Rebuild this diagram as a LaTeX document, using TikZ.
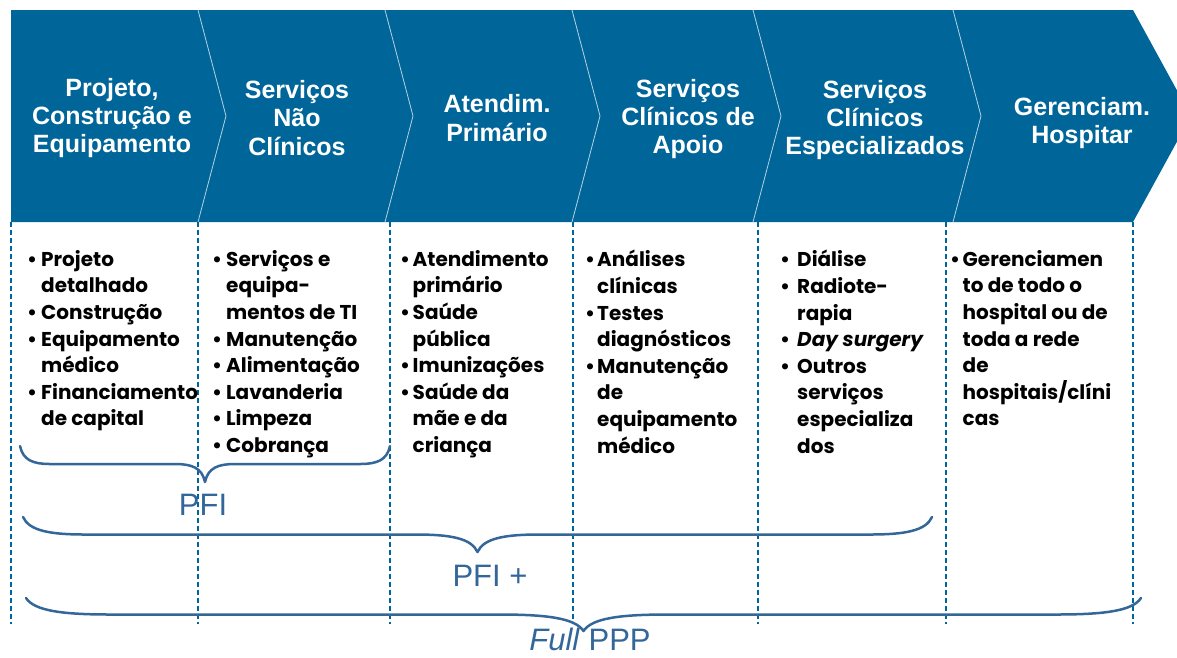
\documentclass[tikz,border=0pt]{standalone}
\usepackage{fontspec}
\setmainfont{Liberation Sans}
\newfontfamily\listfont{Poppins}

\definecolor{bandblue}{RGB}{0,102,153}
\definecolor{braceblue}{RGB}{51,102,153}

\newlength{\bw}
\newcommand{\bp}{\makebox[\bw][l]{\textbullet}}
\newcommand{\bi}{\hspace*{\bw}}
% left x, right x, end y, curl width, half height
\newcommand{\hbrace}[5]{%
  \draw[brace line] (#1,#3) .. controls ({#1+0.1*#4},{#3+0.8*#5}) and ({#1+0.45*#4},{#3+#5}) .. ({#1+#4},{#3+#5})
    -- ({(#1+#2)/2-#4},{#3+#5}) .. controls ({(#1+#2)/2-0.45*#4},{#3+#5}) and ({(#1+#2)/2-0.1*#4},{#3+1.2*#5}) .. ({(#1+#2)/2},{#3+2*#5})
    .. controls ({(#1+#2)/2+0.1*#4},{#3+1.2*#5}) and ({(#1+#2)/2+0.45*#4},{#3+#5}) .. ({(#1+#2)/2+#4},{#3+#5})
    -- ({#2-#4},{#3+#5}) .. controls ({#2-0.45*#4},{#3+#5}) and ({#2-0.1*#4},{#3+0.8*#5}) .. (#2,#3);}

\begin{document}
\begin{tikzpicture}[x=1pt,y=-1pt,
    head/.style={text=white,align=center,font=\bfseries\fontsize{25}{28.3}\selectfont},
    items/.style={anchor=north west,align=left,
      font=\listfont\bfseries\fontsize{20}{26.6}\selectfont,
      execute at begin node={\setlength{\bw}{#1}}},
    lbl/.style={anchor=base,text=braceblue,font=\fontsize{31}{36}\selectfont},
    divider/.style={white,opacity=0.7,line width=0.8pt},
    colline/.style={bandblue,line width=2pt,dash pattern=on 5pt off 3pt},
    brace line/.style={braceblue,line width=2.5pt,line cap=round,line join=round}]
  \tikzstyle{every node}+=[inner sep=0pt]
  \clip (0,0) rectangle (1177,657);

  % chevron band
  \fill[bandblue] (11,10) -- (1133,10) -- (1191,116) -- (1133,222) -- (11,222) -- cycle;
  \foreach \x in {198,385,572,753,953}
    \draw[divider] (\x,10) -- (\x+28,116) -- (\x,222);

  \node[head] (proj) at (112,118) {Projeto,\\Construção e\\Equipamento};
  \node[head] (naoclin) at (297,118) {Serviços\\Não\\Clínicos};
  \node[head] (prim) at (497,118) {Atendim.\\Primário};
  \node[head] (apoio) at (688,119) {Serviços\\Clínicos de\\Apoio};
  \node[head] (espec) at (875,120) {Serviços\\Clínicos\\Especializados};
  \node[head] (geren) at (1082,123) {Gerenciam.\\Hospitar};

  % column separators
  \foreach \x in {11,198,390,573,758,946,1133}
    \draw[colline] (\x,222) -- (\x,624);

  \node[items=14pt] (list1) at (27,250) {\bp Projeto\\ \bi detalhado\\ \bp Construção\\ \bp Equipamento\\ \bi médico\\ \bp Financiamento\\ \bi de capital};
  \node[items=14pt] (list2) at (212,250) {\bp Serviços e\\ \bi equipa-\\ \bi mentos de TI\\ \bp Manutenção\\ \bp Alimentação\\ \bp Lavanderia\\ \bp Limpeza\\ \bp Cobrança};
  \node[items=12.5pt] (list3) at (400,250) {\bp Atendimento\\ \bi primário\\ \bp Saúde\\ \bi pública\\ \bp Imunizações\\ \bp Saúde da\\ \bi mãe e da\\ \bi criança};
  \node[items=12pt] (list4) at (585,250) {\bp Análises\\ \bi clínicas\\ \bp Testes\\ \bi diagnósticos\\ \bp Manutenção\\ \bi de\\ \bi equipamento\\ \bi médico};
  \node[items=17pt] (list5) at (780,250) {\bp Diálise\\ \bp Radiote-\\ \bi rapia\\ \bp \textit{Day surgery}\\ \bp Outros\\ \bi serviços\\ \bi especializa\\ \bi dos};
  \node[items=12.5pt] (list6) at (950,250) {\bp Gerenciamen\\ \bi to de todo o\\ \bi hospital ou de\\ \bi toda a rede\\ \bi de\\ \bi hospitais/clíni\\ \bi cas};

  % scope braces
  \hbrace{20}{390}{446}{30}{18}
  \node[lbl] (pfi) at (203,515) {PFI};
  \hbrace{23}{932}{517}{62}{17.5}
  \node[lbl] (pfiplus) at (490,586) {PFI +};
  \hbrace{26}{1141}{598}{85}{16.5}
  \node[lbl] (fullppp) at (590,650) {\textit{Full} PPP};
\end{tikzpicture}
\end{document}
